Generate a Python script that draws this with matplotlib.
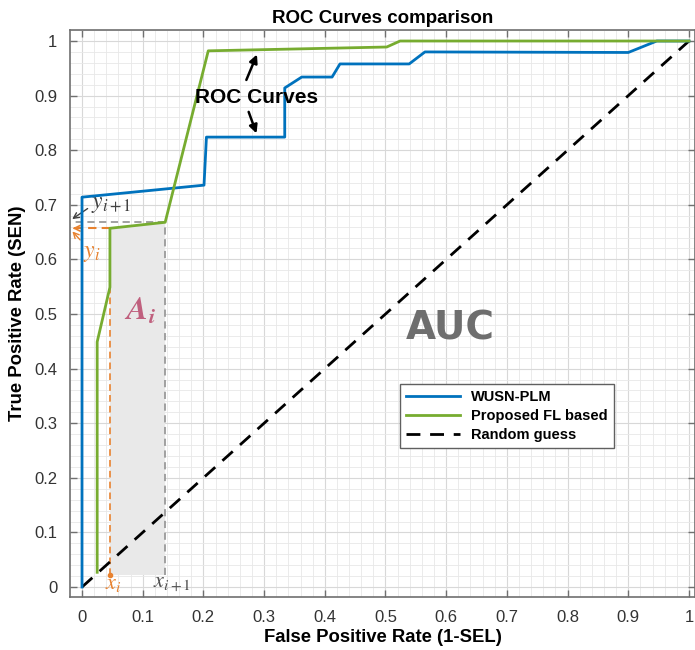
import numpy as np
import matplotlib
matplotlib.use("Agg")
import matplotlib.pyplot as plt
from matplotlib.ticker import MultipleLocator, FuncFormatter

plt.rcParams['font.family'] = ['Liberation Sans', 'DejaVu Sans']
plt.rcParams['mathtext.fontset'] = 'stix'

# ROC points
wusn_fpr = [0, 0, 0.201, 0.205, 0.334, 0.334, 0.362, 0.412, 0.425, 0.539, 0.565, 0.900, 0.947, 1.0]
wusn_tpr = [0, 0.714, 0.736, 0.824, 0.824, 0.914, 0.934, 0.934, 0.958, 0.958, 0.980, 0.979, 1.0, 1.0]

fl_fpr = [0.025, 0.025, 0.046, 0.046, 0.137, 0.208, 0.502, 0.524, 1.0]
fl_tpr = [0.027, 0.449, 0.549, 0.657, 0.668, 0.982, 0.989, 1.0, 1.0]

rand_fpr = [0, 1]
rand_tpr = [0, 1]

# trapezoid A_i used to explain the AUC
x_i, x_i1 = 0.046, 0.137
y_i, y_i1 = 0.657, 0.668
y_base = 0.022

blue = '#0072BD'
green = '#77AC30'
orange = '#E8822F'
grey = '#9a9a9a'

fig = plt.figure(figsize=(6.95, 6.5), dpi=100)
ax = fig.add_axes([0.1007, 0.0815, 0.8993, 0.8723])

# shaded strip
ax.fill([x_i, x_i1, x_i1, x_i], [y_base, y_base, y_i1, y_i], color='#e9e9e9', zorder=1, lw=0)

ax.plot(wusn_fpr, wusn_tpr, color=blue, lw=2, label='WUSN-PLM', zorder=4)
ax.plot(fl_fpr, fl_tpr, color=green, lw=2, label='Proposed FL based', zorder=4)
ax.plot(rand_fpr, rand_tpr, color='black', lw=2, ls=(0, (5, 3.5)), label='Random guess', zorder=3)

# dashed helper lines
ax.plot([x_i1, x_i1], [y_base, y_i1], color=grey, lw=1.3, ls=(0, (4, 2.5)), zorder=2)
ax.plot([x_i1, -0.012], [y_i1, y_i1], color=grey, lw=1.3, ls=(0, (4, 2.5)), zorder=2)
ax.plot([x_i, x_i], [y_base, y_i], color=orange, lw=1.2, ls=(0, (4, 2.5)), zorder=2)
ax.plot([x_i, -0.012], [y_i, y_i], color=orange, lw=1.5, ls=(0, (4, 2.5)), zorder=2)
ax.plot([x_i], [y_base], 'o', color=orange, ms=3, zorder=5)
ax.annotate('', xy=(-0.02, y_i), xytext=(-0.008, y_i),
            arrowprops=dict(arrowstyle='->', color=orange, lw=1.2))

ax.annotate('', xy=(-0.02, 0.671), xytext=(0.013, 0.696),
            arrowprops=dict(arrowstyle='->', color='#404040', lw=1))
ax.annotate('', xy=(-0.019, 0.655), xytext=(0.0, 0.632),
            arrowprops=dict(arrowstyle='->', color=orange, lw=1))

ax.text(0.015, 0.702, r'$y_{i+1}$', color='#404040', fontsize=17, ha='left', va='center')
ax.text(0.016, 0.612, r'$y_i$', color=orange, fontsize=17, ha='center', va='center')
ax.text(0.052, 0.006, r'$x_i$', color=orange, fontsize=16, ha='center', va='center')
ax.text(0.148, 0.006, r'$x_{i+1}$', color='#505050', fontsize=16, ha='center', va='center')
ax.text(0.095, 0.505, r'$\mathbfit{A}_{\mathbfit{i}}$', color='#C0607E', fontsize=23,
        ha='center', va='center')

# ROC curves callout
ax.text(0.288, 0.897, 'ROC Curves', fontsize=15, fontweight='bold', ha='center', va='center', zorder=6)
ax.annotate('', xy=(0.290, 0.980), xytext=(0.269, 0.924),
            arrowprops=dict(arrowstyle='-|>', color='black', lw=1.8, mutation_scale=12))
ax.annotate('', xy=(0.289, 0.826), xytext=(0.273, 0.875),
            arrowprops=dict(arrowstyle='-|>', color='black', lw=1.8, mutation_scale=12))

ax.text(0.606, 0.474, 'AUC', fontsize=28, fontweight='bold', color='#6e6e6e',
        family='DejaVu Sans', ha='center', va='center')

ax.set_xlim(-0.0198, 1.0099)
ax.set_ylim(-0.0183, 1.0201)
ax.xaxis.set_major_locator(MultipleLocator(0.1))
ax.yaxis.set_major_locator(MultipleLocator(0.1))
ax.xaxis.set_minor_locator(MultipleLocator(0.02))
ax.yaxis.set_minor_locator(MultipleLocator(0.02))
fmt = FuncFormatter(lambda v, p: '%g' % round(v, 2))
ax.xaxis.set_major_formatter(fmt)
ax.yaxis.set_major_formatter(fmt)
ax.grid(which='major', color='#d8d8d8', lw=0.8, zorder=0)
ax.grid(which='minor', color='#e8e8e8', lw=0.6, zorder=0)
ax.set_axisbelow(True)
ax.tick_params(which='major', direction='in', length=5, width=1, color='#707070',
               top=True, right=True, labelsize=12, labelcolor='#333333', pad=9)
ax.tick_params(which='minor', length=0)
for s in ax.spines.values():
    s.set_color('#707070')
    s.set_linewidth(1.2)

ax.set_title('ROC Curves comparison', fontsize=13.5, fontweight='bold', pad=5)
ax.set_xlabel('False Positive Rate (1-SEL)', fontsize=13.3, fontweight='bold', labelpad=3)
ax.set_ylabel('True Positive Rate (SEN)', fontsize=13.3, fontweight='bold', labelpad=6)

leg = ax.legend(loc='lower left', bbox_to_anchor=(0.528, 0.263), borderaxespad=0,
                prop={'weight': 'bold', 'size': 10.5}, handlelength=3.7, fancybox=False,
                framealpha=1, edgecolor='#606060', borderpad=0.4, labelspacing=0.35)
leg.get_frame().set_linewidth(1)

fig.savefig('out.png', dpi=100)
